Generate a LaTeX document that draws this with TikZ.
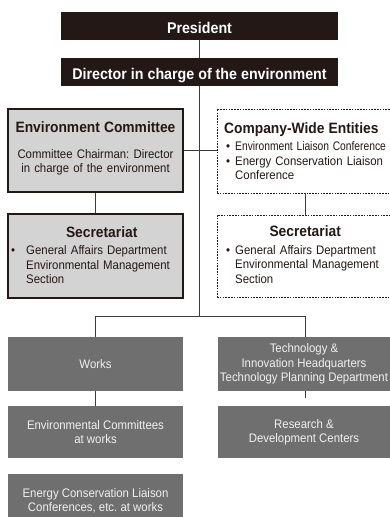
\documentclass[tikz,border=0pt]{standalone}
\usepackage{fontspec}
\setmainfont{Liberation Sans}[FakeStretch=0.92]
\definecolor{cInk}{HTML}{231815}
\definecolor{cLight}{HTML}{D3D3D3}
\definecolor{cDark}{HTML}{6F6F6F}
\definecolor{cLine}{HTML}{3E3A39}
\definecolor{cText}{HTML}{F0F0F0}
\newcommand{\headfont}{\fontsize{15}{18}\selectfont\bfseries}
\newcommand{\bul}[1]{\leavevmode\llap{•\hspace{#1}}}
\frenchspacing
\tikzset{
  topbox/.style={fill=cInk, text=white, minimum width=277pt, minimum height=28pt,
    inner sep=0pt, text height=14.3pt, text depth=0pt,
    font=\fontsize{15.5}{18}\selectfont\bfseries},
  greybox/.style={draw=cInk, line width=1.1pt, fill=cLight, minimum width=175pt, inner sep=0pt},
  dashbox/.style={draw=cInk, line width=0.8pt, dash pattern=on 1.6pt off 1.2pt,
    fill=white, minimum width=176pt, inner sep=0pt},
  darkbox/.style={fill=cDark, text=cText, minimum width=175pt, align=center,
    inner sep=0pt, font=\fontsize{12.4}{14.3}\selectfont},
  conn/.style={draw=cLine, line width=0.9pt},
  bodytext/.style={text=cInk, inner sep=0pt, align=left, text width=175pt, anchor=base west,
    font=\fontsize{12.4}{14.4}\selectfont},
}
\begin{document}
\begin{tikzpicture}[x=1pt,y=-1pt]
\useasboundingbox (0,0) rectangle (390,517);
% boxes
\node[topbox] (pres) at (199.5,26) {President};
\node[topbox] (dir) at (199.5,72) {Director in charge of the environment};
\node[greybox, minimum height=83pt] (envc) at (95.5,150.5) {};
\node[greybox, minimum height=84pt] (sec1) at (95.5,256) {};
\node[dashbox, minimum height=84pt] (cwe) at (305,151) {};
\node[dashbox, minimum height=82pt] (sec2) at (305,256) {};
\node[darkbox, minimum height=54pt] (works) at (95.5,364) {Works};
\node[darkbox, minimum height=52pt] (envw) at (95.5,432) {Environmental Committees\\at works};
\node[darkbox, minimum height=54pt] (energy) at (95.5,501) {Energy Conservation Liaison\\Conferences, etc. at works};
\node[darkbox, minimum width=172pt, minimum height=54pt] (tech) at (304,364)
  {Technology \&\\Innovation Headquarters\\Technology Planning Department};
\node[darkbox, minimum width=172pt, minimum height=52pt] (rnd) at (304,432)
  {Research \&\\Development Centers};
% texts inside light boxes
\node[bodytext, anchor=base, align=center, font=\fontsize{12.4}{14.7}\selectfont] (envct) at (95.5,132)
  {{\headfont Environment Committee}\\[11.3pt]Committee Chairman: Director\\in charge of the environment};
\node[bodytext, font=\fontsize{12.4}{14.3}\selectfont] (sec1t) at (26,237)
  {\hspace*{75.5pt}\makebox[0pt][c]{\headfont Secretariat}\\[3.4pt]\bul{11pt}General Affairs Department\\Environmental Management\\Section};
\node[bodytext, font=\fontsize{12.4}{14.3}\selectfont] (sec2t) at (235,236.7)
  {\hspace*{70pt}\makebox[0pt][c]{\headfont Secretariat}\\[3.4pt]\bul{5pt}General Affairs Department\\Environmental Management\\Section};
\node[bodytext] (cwet) at (224,133)
  {{\headfont Company-Wide Entities}\\[3.5pt]\hspace*{11pt}\llap{•\hspace{5pt}}\scalebox{0.9}[1]{Environment Liaison Conference}\\
   \hspace*{11pt}\llap{•\hspace{5pt}}Energy Conservation Liaison\\
   \hspace*{11pt}Conference};
% connectors
\coordinate (jL) at (95.5,316);
\coordinate (jR) at (305,316);
\coordinate (stub) at (305,398);
\draw[conn] (pres.south) -- (dir.north);
\draw[conn] (dir.south) -- (dir.south |- jL);
\draw[conn] (envc.east) -- (envc.east -| cwe.west);
\draw[conn] (envc.south) -- (sec1.north);
\draw[conn] (cwe.south) -- (sec2.north);
\draw[conn] (jL) -- (jR);
\draw[conn] (jL) -- (works.north);
\draw[conn] (jR) -- (jR |- tech.north);
\draw[conn] (works.south) -- (envw.north);
\draw[conn] (tech.south -| jR) -- (stub);
\end{tikzpicture}
\end{document}
